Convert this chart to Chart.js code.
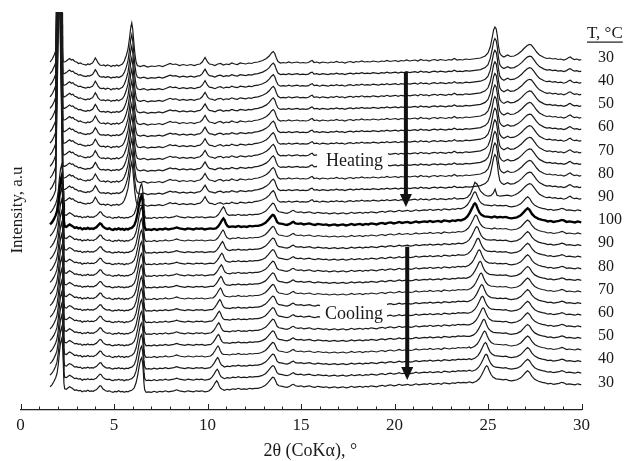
<!DOCTYPE html>
<html lang="en">
<head>
    <meta charset="UTF-8">
    <title>XRD patterns on heating and cooling</title>
    <script src="https://cdn.jsdelivr.net/npm/chart.js"></script>
    <style>
        body {
            margin: 0;
            background: #fff;
        }
        #wrap {
            width: 628px;
            height: 461px;
        }
    </style>
</head>
<body>
    <div id="wrap"><canvas id="xrdChart" width="628" height="461"></canvas></div>
    <script>
        // temperature of each pattern, top to bottom (heating 30 -> 100, then cooling back to 30)
        const temps = [30, 35, 40, 45, 50, 55, 60, 65, 70, 75, 80, 85, 90, 95, 100,
                       95, 90, 85, 80, 75, 70, 65, 60, 55, 50, 45, 40, 35, 30];

        // stacking offset of each pattern (intensity, a.u.)
        const baselines = [350, 338.4, 326.8, 315.2, 303.6, 292, 280.4, 268.8, 257.2, 245.6,
                           234, 222.4, 210.8, 199.2, 187.6,
                           176, 164.4, 152.8, 141.2, 129.6, 118, 106.4, 94.8, 83.2, 71.6,
                           60, 48.4, 36.8, 25.2];

        // x tick labels
        const xTicks = [0, 5, 10, 15, 20, 25, 30];

        // low temperature phase pattern [2theta, intensity]
        const heatProfile = [
            [1.58, -2], [1.7, 1], [1.8, 5], [1.88, 9], [1.91, 47], [2.04, 190], [2.07, 1200],
            [2.1, 190], [2.23, 47], [2.25, 10], [2.28, -2],
            [2.35, -2], [2.45, -1], [2.55, 0.5], [2.63, 1.5], [2.72, 0], [2.8, 0.5], [2.9, -1.5], [3.0, -2],
            [3.1, -3.5], [3.2, -3], [3.3, -4], [3.4, -4.5], [3.5, -5], [3.6, -4], [3.7, -4.5], [3.78, -3.5],
            [3.85, -3], [3.93, -0.5], [4.0, 2], [4.07, 0], [4.15, -3], [4.25, -5],
            [4.35, -5.5], [4.45, -5], [4.55, -6], [4.65, -5], [4.75, -5.5], [4.85, -6.5], [4.95, -5.5],
            [5.05, -6], [5.15, -5], [5.25, -6], [5.35, -5],
            [5.45, -4], [5.55, -1], [5.65, 4], [5.75, 11], [5.83, 22], [5.9, 33], [5.95, 37], [6.0, 31],
            [6.06, 18], [6.12, 6], [6.18, -2], [6.25, -5.5],
            [6.4, -6.5], [6.6, -5.5], [6.8, -7], [7.0, -6], [7.2, -6.5], [7.4, -5.5], [7.6, -6.5], [7.8, -5],
            [8.0, -3.5], [8.15, -4.5], [8.3, -4], [8.5, -5.5], [8.7, -4.5], [8.9, -5.5], [9.1, -4.5],
            [9.3, -5.5], [9.45, -4.5],
            [9.6, -4], [9.72, -2], [9.8, 0.5], [9.87, 2.5], [9.93, 0.5], [10.0, -2], [10.1, -4],
            [10.25, -4.5], [10.4, -5.5], [10.55, -4], [10.7, -3.5], [10.85, -5], [11.0, -4], [11.15, -4.5],
            [11.3, -3], [11.45, -4], [11.6, -4.5], [11.75, -3], [11.9, -3.5], [12.05, -4], [12.2, -3],
            [12.35, -3.5], [12.5, -2.5],
            [12.7, -2], [12.95, -0.5], [13.15, 1.5], [13.3, 4], [13.42, 7], [13.52, 8.5], [13.6, 6.5],
            [13.68, 2], [13.77, -1.5], [13.9, -3],
            [14.05, -2.5], [14.2, -3], [14.35, -2], [14.5, -3], [14.65, -2.5], [14.8, -2], [14.95, -3],
            [15.1, -2.5], [15.25, -3], [15.4, -2.5], [15.52, -1], [15.6, -0.5], [15.7, -2.5], [15.85, -2],
            [16.0, -3], [16.15, -2], [16.3, -2.5], [16.45, -3], [16.6, -2], [16.75, -2.5], [16.9, -1.5],
            [17.05, -2.5], [17.2, -2], [17.35, -3], [17.5, -2], [17.65, -1.5], [17.8, -2.5], [17.95, -1.5],
            [18.1, -2], [18.25, -1], [18.4, -2], [18.55, -1.5], [18.7, -2], [18.85, -1], [19.0, -1.5],
            [19.15, -2], [19.3, -1], [19.45, -1.5], [19.6, -0.5], [19.75, -1.5], [19.9, -1], [20.05, -0.5],
            [20.2, -1.5], [20.35, -0.5], [20.5, -1], [20.65, 0], [20.8, -1], [20.95, -0.5], [21.1, 0],
            [21.25, -1], [21.4, 0.5], [21.55, -0.5], [21.7, 0], [21.85, -1], [22.0, 0], [22.15, 0.5],
            [22.3, -0.5], [22.45, 0.5], [22.6, 0], [22.75, -0.5], [22.9, 0.5], [23.05, 0], [23.2, 1.5],
            [23.35, 0], [23.5, 0.5], [23.65, 0], [23.8, 1], [24.0, 0.5], [24.2, 1], [24.4, 1.5],
            [24.6, 2], [24.85, 4], [25.0, 7], [25.12, 13], [25.22, 22], [25.3, 30], [25.37, 33], [25.44, 31],
            [25.5, 24], [25.56, 14], [25.63, 7], [25.72, 4.5], [25.85, 3], [26.05, 5], [26.2, 3.5],
            [26.4, 4], [26.6, 6], [26.8, 9], [26.95, 12], [27.1, 14.5], [27.22, 15.5], [27.32, 15],
            [27.45, 12], [27.6, 8], [27.75, 5], [28.0, 2.5],
            [28.15, 1.5], [28.3, 2], [28.45, 1], [28.6, 1.5], [28.75, 0.5], [28.9, 1], [29.05, 0], [29.2, 1],
            [29.32, 2.5], [29.4, 3], [29.5, 1.5], [29.62, 0.5], [29.75, 1], [29.88, 0], [30, 0.5]
        ];

        // 90 C pattern between 23.5 and 26.5 deg: new broad line appears, old one fades
        const heat90High = [
            [23.7, 0.5], [23.9, 2], [24.05, 5], [24.18, 11], [24.3, 17], [24.42, 15], [24.6, 8], [24.8, 4.5],
            [25.0, 3], [25.15, 3.5], [25.28, 6], [25.38, 10], [25.48, 4], [25.65, 3], [25.85, 3.5], [26.05, 4],
            [26.25, 3], [26.45, 4.5]
        ];

        // high temperature phase pattern, without its two moving lines
        const coolProfile = [
            [1.58, -2], [1.68, 0], [1.78, 3], [1.88, 7], [1.95, 11], [2.02, 20], [2.08, 32], [2.14, 42],
            [2.2, 46], [2.25, 40], [2.29, 20], [2.32, 2], [2.36, -4],
            [2.45, -4.5], [2.55, -3], [2.63, -2], [2.72, -3], [2.8, -4], [2.9, -5.5], [3.0, -5], [3.1, -6],
            [3.2, -5.5], [3.3, -7], [3.4, -6], [3.5, -6.5], [3.6, -5.5], [3.7, -6.5], [3.8, -6], [3.9, -6.5],
            [3.98, -5.5],
            [4.05, -5], [4.15, -3], [4.25, -1], [4.32, -1.5], [4.4, -4], [4.55, -6],
            [4.65, -6.5], [4.75, -6], [4.85, -7], [4.95, -7.5], [5.05, -6.5], [5.15, -7], [5.25, -6],
            [5.35, -7], [5.45, -6.5], [5.55, -7.5], [5.65, -6.5], [5.75, -7], [5.85, -6],
            [5.95, -5.5], [6.08, -3], [6.18, 2], [6.27, 10], [6.35, 19], [6.42, 25], [6.48, 27], [6.53, 22],
            [6.57, 12], [6.6, 2], [6.64, -5], [6.72, -7.5],
            [6.85, -7], [7.0, -7.5], [7.15, -6.5], [7.3, -7.5], [7.45, -6.5], [7.6, -7], [7.75, -6], [7.9, -7],
            [8.05, -6.5], [8.2, -6], [8.35, -5], [8.5, -6], [8.65, -6.5], [8.8, -7], [8.95, -6], [9.1, -6.5],
            [9.25, -7], [9.4, -6], [9.55, -6.5], [9.7, -6], [9.85, -7], [10.0, -6.5], [10.15, -6], [10.3, -6.5],
            [10.45, -5.5], [10.6, -6], [10.75, -5], [10.9, -5.5], [11.05, -4.5], [11.2, -5], [11.35, -4],
            [11.5, -4.5], [11.65, -3.5], [11.8, -4.5], [11.95, -4], [12.1, -4.5], [12.25, -3.5], [12.4, -4],
            [12.55, -3.5],
            [12.7, -3.5], [12.9, -2.5], [13.1, -0.5], [13.25, 2.5], [13.38, 5.5], [13.48, 7.5], [13.56, 7],
            [13.64, 4], [13.72, 0.5], [13.82, -1], [14.0, -1.5],
            [14.1, -2], [14.25, -2.5], [14.4, -1.5], [14.52, 0], [14.6, 0.5], [14.7, -1], [14.85, -1.5],
            [15.0, -1], [15.15, -2], [15.3, -1.5], [15.45, -1], [15.6, -2], [15.75, -2.5], [15.9, -1.5],
            [16.05, -2], [16.2, -2.5], [16.35, -2], [16.5, -3], [16.65, -2.5], [16.8, -2], [16.95, -3],
            [17.1, -2.5], [17.25, -2], [17.4, -3], [17.55, -2.5], [17.7, -1.5], [17.85, -2.5], [18.0, -2],
            [18.15, -1.5], [18.3, -2.5], [18.45, -1.5], [18.6, -2], [18.75, -1], [18.9, -1.5], [19.05, -2],
            [19.2, -1], [19.35, -0.5], [19.5, -1.5], [19.65, -0.5], [19.8, 0], [19.95, -1], [20.1, -0.5],
            [20.25, 0.5], [20.4, -0.5], [20.55, 0], [20.7, 0.5], [20.85, -0.5], [21.0, 0], [21.15, 1],
            [21.3, 0], [21.45, 0.5], [21.6, 1], [21.75, 0.5], [21.9, 1.5], [22.05, 0.5], [22.2, 1],
            [22.35, 1.5], [22.5, 0.5], [22.65, 2], [22.8, 1.5], [22.95, 1], [23.1, 2], [23.25, 1.5], [23.4, 2.5],
            [23.55, 2], [23.7, 2.5], [23.85, 2], [24.0, 3], [24.15, 2.5], [24.3, 3], [24.45, 3.5], [24.6, 4],
            [24.75, 4.5], [24.9, 5], [25.05, 5.5], [25.2, 5], [25.35, 6], [25.5, 5], [25.65, 5.5], [25.8, 5],
            [25.95, 5.5], [26.1, 4.5], [26.25, 4], [26.4, 4.5],
            [26.55, 5], [26.75, 7], [26.9, 10], [27.02, 12.5], [27.12, 14], [27.22, 12.5], [27.35, 8.5],
            [27.5, 5.5], [27.7, 3.5], [27.9, 2.5],
            [28.05, 2], [28.2, 1], [28.35, 1.5], [28.5, 0.5], [28.65, 1], [28.8, 1.5], [28.95, 2.5], [29.05, 2],
            [29.2, 0.5], [29.35, 1], [29.5, 0.5], [29.65, 0], [29.8, 1], [30, 0]
        ];

        // shape of the two moving lines, offset from their centre [d2theta, intensity]
        const line11Shape = [[-0.4, -6], [-0.28, -4], [-0.17, -1], [-0.08, 2], [0, 4], [0.06, 2.5],
                             [0.13, -1], [0.21, -3.5], [0.3, -4.5]];
        const line25Shape = [[-0.75, 2], [-0.55, 3.5], [-0.4, 6], [-0.28, 9.5], [-0.16, 14], [-0.06, 18],
                             [0, 19], [0.06, 18], [0.14, 14], [0.24, 10], [0.35, 7.5], [0.5, 6], [0.75, 5.5]];

        // centres of those lines for the patterns from 95 C (heating) to 30 C (cooling)
        const line11Pos = [10.85, 10.85, 10.83, 10.8, 10.77, 10.74, 10.72, 10.69, 10.66, 10.63,
                           10.6, 10.58, 10.56, 10.54, 10.52, 10.49];
        const line25Pos = [24.3, 24.3, 24.35, 24.4, 24.47, 24.53, 24.58, 24.63, 24.67, 24.7,
                           24.74, 24.78, 24.82, 24.86, 24.9, 24.93];

        const SERIF = "'Liberation Serif', 'Times New Roman', serif";
        const INK = '#1a1a1a';

        // annotations, in axis units
        const notes = [
            { text: 'Heating', tx: 16.34, ty: 244, box: [15.86, 239, 19.65, 261], ax: 20.61, from: 338, to: 203 },
            { text: 'Cooling', tx: 16.28, ty: 91, box: [16.02, 86, 19.6, 108], ax: 20.68, from: 163.3, to: 30 }
        ];

        function buildPattern(i) {
            let pts;
            if (i < 12) {
                pts = heatProfile.slice();
            } else if (i === 12) {
                pts = heatProfile.filter(p => p[0] < 23.55 || p[0] > 26.5).concat(heat90High);
            } else {
                const c11 = line11Pos[i - 13];
                const c25 = line25Pos[i - 13];
                pts = coolProfile
                    .filter(p => (p[0] < c11 - 0.45 || p[0] > c11 + 0.35) && (p[0] < c25 - 0.8 || p[0] > c25 + 0.8))
                    .concat(line11Shape.map(p => [c11 + p[0], p[1]]))
                    .concat(line25Shape.map(p => [c25 + p[0], p[1]]));
            }
            pts.sort((a, b) => a[0] - b[0]);
            return pts.map(p => ({ x: p[0], y: baselines[i] + p[1] }));
        }

        const datasets = temps.map((t, i) => ({
            label: t + ' C',
            data: buildPattern(i),
            borderColor: i === 14 ? '#000' : INK,
            borderWidth: i === 14 ? 2.4 : 1.2,
            pointRadius: 0,
            tension: 0,
            fill: false
        }));

        const labelled = temps.map((t, i) => i).filter(i => i % 2 === 0);

        const decor = {
            id: 'decor',
            afterDatasetsDraw(chart) {
                const { ctx, scales: { x, y } } = chart;
                ctx.save();
                notes.forEach(n => {
                    const bx = x.getPixelForValue(n.box[0]);
                    const by = y.getPixelForValue(n.box[3]);
                    ctx.fillStyle = '#fff';
                    ctx.fillRect(bx, by, x.getPixelForValue(n.box[2]) - bx, y.getPixelForValue(n.box[1]) - by);
                    ctx.fillStyle = INK;
                    ctx.font = '18px ' + SERIF;
                    ctx.textBaseline = 'alphabetic';
                    ctx.textAlign = 'left';
                    ctx.fillText(n.text, x.getPixelForValue(n.tx), y.getPixelForValue(n.ty));

                    // arrow
                    const ax = x.getPixelForValue(n.ax);
                    const top = y.getPixelForValue(n.from);
                    const tip = y.getPixelForValue(n.to);
                    ctx.fillStyle = '#111';
                    ctx.fillRect(ax - 2, top, 4, tip - top - 12);
                    ctx.beginPath();
                    ctx.moveTo(ax - 6, tip - 13);
                    ctx.lineTo(ax + 6, tip - 13);
                    ctx.lineTo(ax, tip);
                    ctx.closePath();
                    ctx.fill();
                });
                ctx.restore();
            },
            afterDraw(chart) {
                const { ctx, chartArea, scales: { x, y } } = chart;
                ctx.save();
                // inward tick marks, every degree, longer every 5
                ctx.strokeStyle = '#222';
                ctx.lineWidth = 1;
                for (let v = 0; v <= 30; v++) {
                    const px = Math.round(x.getPixelForValue(v)) + 0.5;
                    const len = v % 5 === 0 ? 6 : 3.5;
                    ctx.beginPath();
                    ctx.moveTo(px, chartArea.bottom);
                    ctx.lineTo(px, chartArea.bottom - len);
                    ctx.stroke();
                }

                ctx.fillStyle = INK;
                ctx.font = '18px ' + SERIF;
                ctx.textAlign = 'center';
                ctx.textBaseline = 'middle';
                ctx.fillText('2θ (CoKα), °', x.getPixelForValue(15.5), chart.height - 10);

                ctx.save();
                ctx.translate(17.5, y.getPixelForValue(200));
                ctx.rotate(-Math.PI / 2);
                ctx.font = '17px ' + SERIF;
                ctx.fillText('Intensity, a.u', 0, 0);
                ctx.restore();

                // header of the temperature column
                const hx = chartArea.right + 5.5;
                const hy = y.getPixelForValue(372);
                ctx.font = '17px ' + SERIF;
                ctx.textAlign = 'left';
                ctx.textBaseline = 'alphabetic';
                ctx.fillText('T, °C', hx, hy);
                const w = ctx.measureText('T, °C').width;
                ctx.fillRect(hx, hy + 3.5, w, 1.2);
                ctx.restore();
            }
        };

        new Chart(document.getElementById('xrdChart'), {
            type: 'line',
            data: { datasets: datasets },
            plugins: [decor],
            options: {
                responsive: false,
                animation: false,
                devicePixelRatio: 1,
                layout: { padding: { left: 20.5, top: 12, right: 0, bottom: 0 } },
                plugins: {
                    legend: { display: false },
                    tooltip: { enabled: false }
                },
                scales: {
                    x: {
                        type: 'linear',
                        min: 0,
                        max: 30,
                        grid: { display: false, drawTicks: false },
                        border: { display: true, color: '#222', width: 1.3 },
                        afterBuildTicks: scale => { scale.ticks = xTicks.map(v => ({ value: v })); },
                        ticks: {
                            font: { family: SERIF, size: 17 },
                            color: INK,
                            padding: 5,
                            maxRotation: 0
                        },
                        afterFit: scale => { scale.height = 51; }
                    },
                    y: {
                        type: 'linear',
                        position: 'right',
                        min: 0,
                        max: 398,
                        // tick marks hidden; their length only spaces the labels off the plot
                        grid: { display: false, drawTicks: true, tickLength: 16.5 },
                        border: { display: false },
                        afterBuildTicks: scale => { scale.ticks = labelled.map(i => ({ value: baselines[i] })); },
                        ticks: {
                            autoSkip: false,
                            callback: value => {
                                const i = labelled.find(k => Math.abs(baselines[k] - value) < 0.01);
                                return i === undefined ? '' : String(temps[i]);
                            },
                            font: { family: SERIF, size: 16 },
                            color: INK,
                            padding: 0,
                            labelOffset: -2.5
                        },
                        afterFit: scale => { scale.width = 46.5; }
                    }
                }
            }
        });
    </script>
</body>
</html>
